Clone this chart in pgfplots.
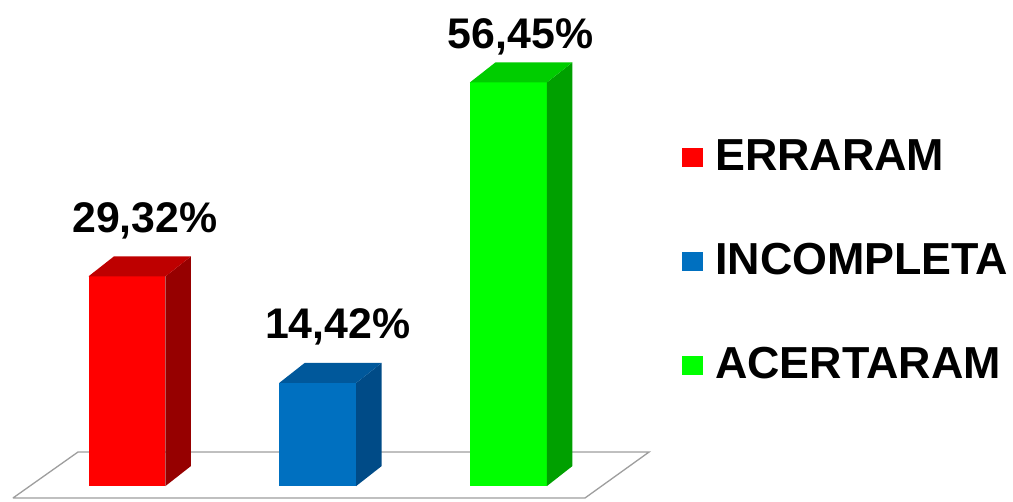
\documentclass[border=0pt]{standalone}
\usepackage{pgfplots}
\pgfplotsset{compat=1.18}
\usepackage{fontspec}
\setmainfont{Liberation Sans}
\definecolor{redF}{RGB}{255,0,0}
\definecolor{redS}{RGB}{150,0,0}
\definecolor{redT}{RGB}{190,0,0}
\definecolor{bluF}{RGB}{0,112,192}
\definecolor{bluS}{RGB}{0,75,135}
\definecolor{bluT}{RGB}{0,88,155}
\definecolor{grnF}{RGB}{0,255,0}
\definecolor{grnS}{RGB}{0,160,0}
\definecolor{grnT}{RGB}{0,205,0}
\pgfplotsset{
  front/.style={ybar, bar shift=0pt, bar width=0.4036, draw=none, fill=#1,
    nodes near coords={\pgfmathprintnumber[fixed,fixed zerofill,precision=2,use comma,assume math mode=true]{\pgfplotspointmeta}\%},
    every node near coord/.append style={font=\fontsize{43}{47}\selectfont\bfseries, anchor=base, text=black}},
  face/.style={fill=#1, draw=none, forget plot, mark=none},
}
\begin{document}
\begin{tikzpicture}
\begin{axis}[
  width=1013bp, height=501bp, scale only axis,
  xmin=-0.6658, xmax=4.645, ymin=-2.098, ymax=67.97,
  hide axis, clip=false,
  legend image code/.code={\fill[#1] (0bp,-11bp) rectangle (21bp,8bp);},
  legend style={at={(axis cs:2.9096,31.6)}, anchor=west, draw=none, fill=none,
    inner sep=0pt, nodes={inner sep=0pt}, column sep=12bp, row sep=71bp,
    font=\fontsize{45}{50}\selectfont\bfseries},
  legend cell align=left,
]
\coordinate (bl) at (rel axis cs:0,0);
\coordinate (tr) at (rel axis cs:1,1);
% floor
\addplot[draw=black!38, line width=1.3bp, fill=white, forget plot, mark=none]
  coordinates {(-0.598,-1.678) (2.401,-1.678) (2.737,4.755) (-0.257,4.755) (-0.598,-1.678)};
% ERRARAM
\addplot[front=redF, every node near coord/.append style={xshift=18bp, yshift=44bp}] coordinates {(0,29.32)};
\addlegendentry{ERRARAM}
\addplot[face=redS] coordinates {(0.2018,0) (0.3355,2.8) (0.3355,32.12) (0.2018,29.32)};
\addplot[face=redT] coordinates {(-0.2018,29.32) (0.2018,29.32) (0.3355,32.12) (-0.0681,32.12)};
% INCOMPLETA
\addplot[front=bluF, every node near coord/.append style={xshift=20bp, yshift=44bp}] coordinates {(1,14.42)};
\addlegendentry{INCOMPLETA}
\addplot[face=bluS] coordinates {(1.2018,0) (1.3355,2.8) (1.3355,17.22) (1.2018,14.42)};
\addplot[face=bluT] coordinates {(0.7982,14.42) (1.2018,14.42) (1.3355,17.22) (0.9319,17.22)};
% ACERTARAM
\addplot[front=grnF, every node near coord/.append style={xshift=12bp, yshift=34bp}] coordinates {(2,56.45)};
\addlegendentry{ACERTARAM}
\addplot[face=grnS] coordinates {(2.2018,0) (2.3355,2.8) (2.3355,59.25) (2.2018,56.45)};
\addplot[face=grnT] coordinates {(1.7982,56.45) (2.2018,56.45) (2.3355,59.25) (1.9319,59.25)};
\end{axis}
\pgfresetboundingbox
\path (bl) rectangle (tr);
\end{tikzpicture}
\end{document}
